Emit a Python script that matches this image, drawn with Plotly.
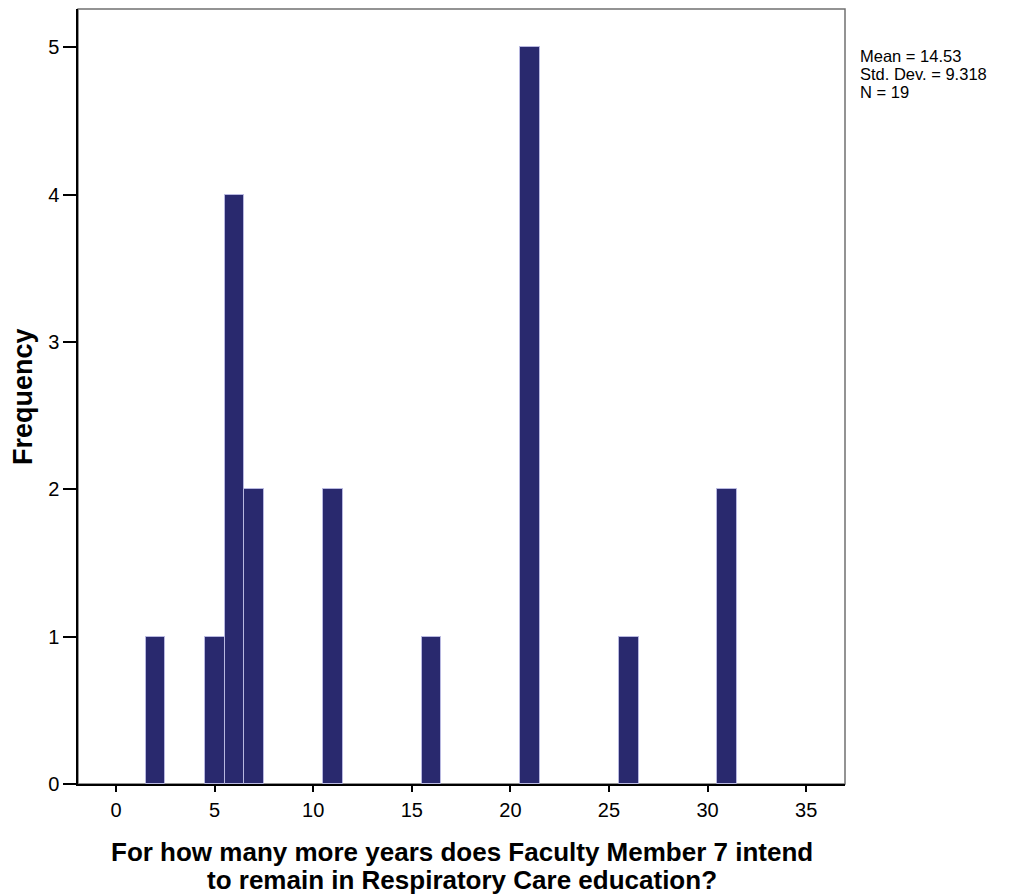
import plotly.graph_objects as go

years = [2, 5, 6, 7, 11, 16, 21, 26, 31]
counts = [1, 1, 4, 2, 2, 1, 5, 1, 2]
x_ticks = [0, 5, 10, 15, 20, 25, 30, 35]
y_ticks = [0, 1, 2, 3, 4, 5]
stats_lines = ["Mean = 14.53", "Std. Dev. = 9.318", "N = 19"]
x_title_lines = ["For how many more years does Faculty Member 7 intend",
                 "to remain in Respiratory Care education?"]
y_title = "Frequency"

FONT = "Liberation Sans, Arial"

fig = go.Figure(go.Bar(
    x=years, y=counts, width=1,
    marker=dict(color="#29296e", line=dict(color="#b8b8e0", width=1)),
))

fig.update_layout(
    width=1015, height=896,
    margin=dict(l=70, r=178, t=1, b=120),
    plot_bgcolor="white", paper_bgcolor="white",
    showlegend=False,
    font=dict(family=FONT, size=20, color="black"),
    bargap=0,
)
fig.update_xaxes(
    range=[-1.93, 36.97], tickvals=x_ticks, ticks="outside", ticklen=6, tickwidth=1.5,
    tickcolor="black", showline=True, linecolor="black", linewidth=1.5, showgrid=False,
    zeroline=False, tickfont=dict(family=FONT, size=20), ticklabelstandoff=1,
)
fig.update_yaxes(
    range=[0, 5.26], tickvals=y_ticks, ticks="outside", ticklen=13, tickwidth=1.5,
    tickcolor="black", showline=True, linecolor="black", linewidth=1.5, showgrid=False,
    zeroline=False, tickfont=dict(family=FONT, size=20), ticklabelstandoff=0,
)
fig.add_shape(type="rect", xref="paper", yref="paper", x0=0, x1=1, y0=0, y1=1,
              line=dict(color="#707070", width=1.5), layer="below")

title_y = [-0.0877, -0.1239]
for line, yy in zip(x_title_lines, title_y):
    fig.add_annotation(text="<b>" + line + "</b>", xref="paper", yref="paper",
                       x=0.5, y=yy, xanchor="center", yanchor="middle", showarrow=False,
                       font=dict(family=FONT, size=26))
fig.add_annotation(text="<b>" + y_title + "</b>", xref="paper", yref="paper",
                   x=-0.0724, y=0.5, xanchor="center", yanchor="middle", showarrow=False,
                   textangle=-90, font=dict(family=FONT, size=27))
stats_y = [0.9394, 0.9161, 0.8929]
for line, yy in zip(stats_lines, stats_y):
    fig.add_annotation(text=line, xref="paper", yref="paper",
                       x=1.017, y=yy, xanchor="left", yanchor="middle",
                       showarrow=False, font=dict(family=FONT, size=16.5))

fig.write_html("out.html")
